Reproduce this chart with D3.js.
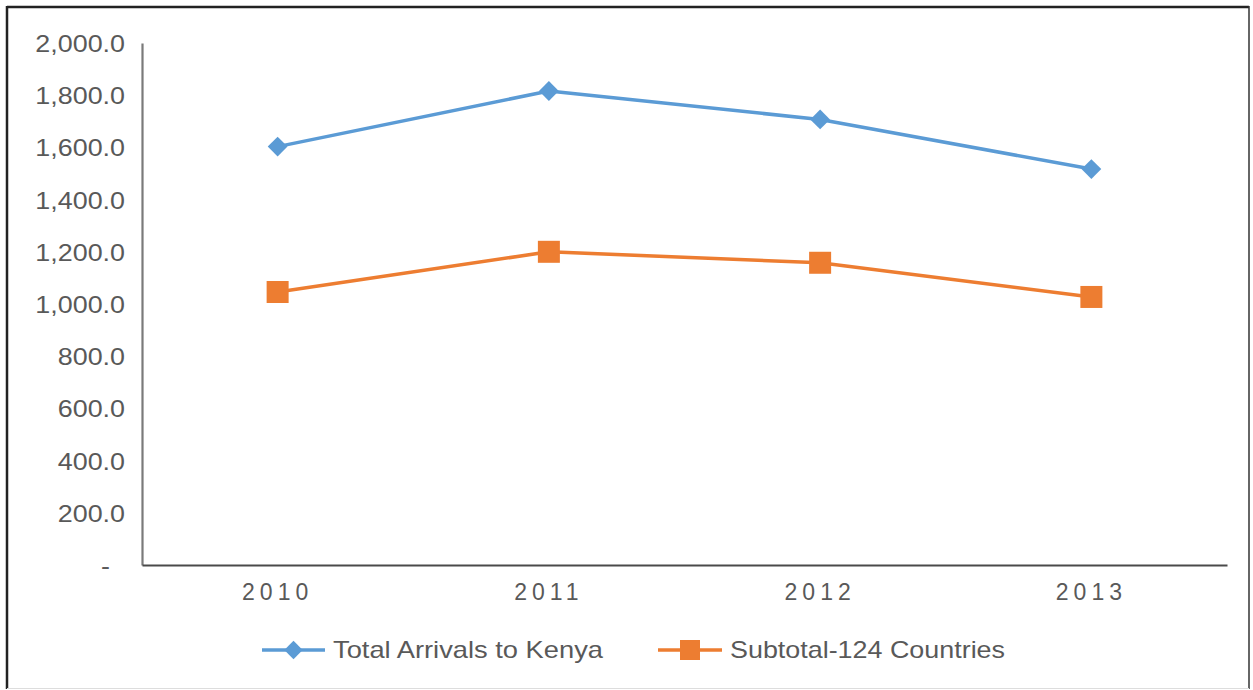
<!DOCTYPE html>
<html><head><meta charset="utf-8">
<script src="https://cdn.jsdelivr.net/npm/d3@7"></script>
<style>body{margin:0;background:#fff}svg{display:block}text{font-family:"Liberation Sans",Arial,sans-serif;fill:#595959}</style>
</head><body>
<svg id="c" width="1253" height="690"></svg>
<script>
const years = ["2010","2011","2012","2013"];
const totalArrivals = [1603, 1816, 1707, 1517];
const subtotal124 = [1046, 1200, 1158, 1027];
const yTicks = [0,200,400,600,800,1000,1200,1400,1600,1800,2000];
const seriesNames = ["Total Arrivals to Kenya","Subtotal-124 Countries"];
const colors = ["#5B9BD5","#ED7D31"];

const svg = d3.select("#c");
// outer frame
svg.append("line").attr("x1",7).attr("y1",7).attr("x2",1249).attr("y2",7).attr("stroke","#222").attr("stroke-width",2.5);
svg.append("line").attr("x1",7).attr("y1",6).attr("x2",7).attr("y2",689).attr("stroke","#222").attr("stroke-width",2.5);
svg.append("line").attr("x1",1249).attr("y1",6).attr("x2",1249).attr("y2",689).attr("stroke","#333").attr("stroke-width",1.5);
svg.append("line").attr("x1",7).attr("y1",688.5).attr("x2",1249).attr("y2",688.5).attr("stroke","#ddd").attr("stroke-width",1);

const x = d3.scaleBand().domain(years).range([142,1227]);
const y = d3.scaleLinear().domain([0,2000]).range([565,43]);

function stretch(sel, k){
  sel.each(function(){
    const w = this.getComputedTextLength();
    d3.select(this).attr("textLength", w*k).attr("lengthAdjust","spacingAndGlyphs");
  });
}

// y axis
const ya = svg.append("g").attr("transform","translate(142,0)")
  .call(d3.axisLeft(y).tickValues(yTicks).tickSize(0).tickPadding(17)
    .tickFormat(d => d===0 ? "-" : d3.format(",.1f")(d)));
ya.select(".domain").attr("stroke","#7a7a7a").attr("stroke-width",2.2);
ya.selectAll("text").style("font-size","24px").attr("fill","#595959").attr("dy","0.35em");
ya.selectAll(".tick").filter(d=>d===0).select("text").attr("x",-32);
stretch(ya.selectAll("text"), 1.12);

// x axis
const xa = svg.append("g").attr("transform","translate(0,565)")
  .call(d3.axisBottom(x).tickSize(0).tickPadding(19));
xa.select(".domain").attr("stroke","#4a4a4a").attr("stroke-width",2);
xa.selectAll("text").style("font-size","23px").style("letter-spacing","5px").attr("fill","#595959").attr("dy","0.71em");

const data = [totalArrivals, subtotal124];
const line = d3.line().x((d,i)=>x(years[i])+x.bandwidth()/2).y(d=>y(d));

data.forEach((vals,si)=>{
  svg.append("path").datum(vals).attr("d",line).attr("fill","none")
    .attr("stroke",colors[si]).attr("stroke-width",3.5).attr("stroke-linejoin","round");
  const g = svg.append("g");
  vals.forEach((v,i)=>{
    const cx = x(years[i])+x.bandwidth()/2, cy = y(v);
    if(si===0){
      g.append("rect").attr("x",-7).attr("y",-7).attr("width",14).attr("height",14)
        .attr("transform",`translate(${cx},${cy}) rotate(45)`).attr("fill",colors[0]);
    } else {
      g.append("rect").attr("x",cx-11).attr("y",cy-11).attr("width",22).attr("height",22).attr("fill",colors[1]);
    }
  });
});

// legend
const legendItems = [
  {x0:262, x1:325, tx:333, tw:270},
  {x0:658, x1:722, tx:730, tw:275}
];
legendItems.forEach((L,si)=>{
  const ly = 650;
  svg.append("line").attr("x1",L.x0).attr("x2",L.x1).attr("y1",ly).attr("y2",ly)
    .attr("stroke",colors[si]).attr("stroke-width",3.5);
  const cx=(L.x0+L.x1)/2;
  if(si===0){
    svg.append("rect").attr("x",-6.5).attr("y",-6.5).attr("width",13).attr("height",13)
      .attr("transform",`translate(${cx},${ly}) rotate(45)`).attr("fill",colors[0]);
  } else {
    svg.append("rect").attr("x",cx-10).attr("y",ly-10).attr("width",20).attr("height",20).attr("fill",colors[1]);
  }
  svg.append("text").attr("x",L.tx).attr("y",ly).attr("dy","0.35em")
    .style("font-size","24px").attr("textLength",L.tw).attr("lengthAdjust","spacingAndGlyphs")
    .text(seriesNames[si]);
});
</script>
</body></html>
